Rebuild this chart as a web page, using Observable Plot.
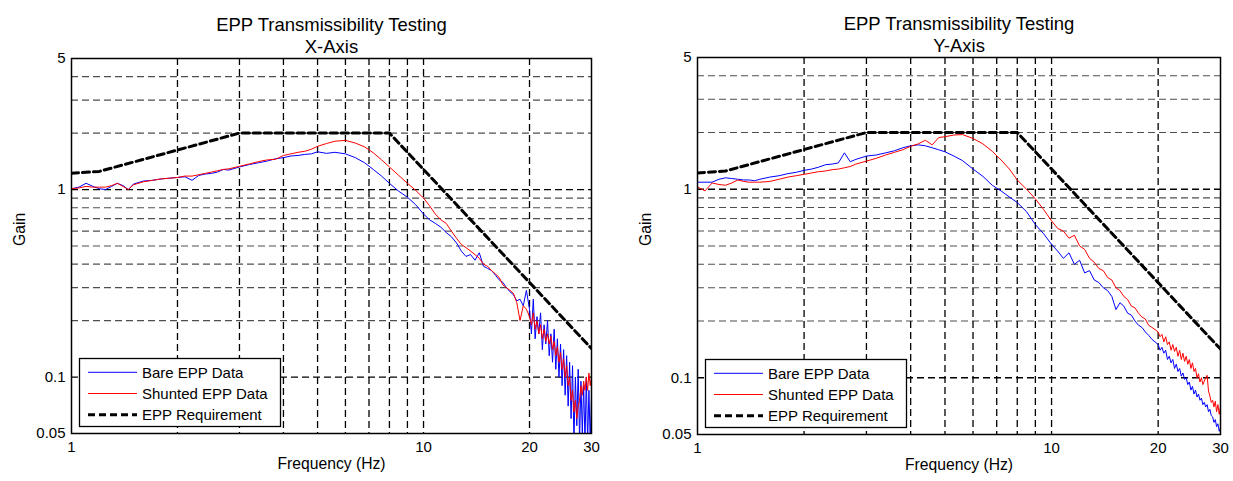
<!DOCTYPE html>
<html><head><meta charset="utf-8">
<script src="https://cdn.jsdelivr.net/npm/d3@7"></script>
<script src="https://cdn.jsdelivr.net/npm/@observablehq/plot@0.6"></script>
<style>
body{margin:0;background:#fff;}
#wrap{display:flex;width:1233px;height:481px;overflow:hidden;}
</style></head><body><div id="wrap"></div>
<script>
// ---- data ----
const chartTitle = "EPP Transmissibility Testing";
const panelNames = ["X-Axis", "Y-Axis"];
const seriesLabels = ["Bare EPP Data", "Shunted EPP Data", "EPP Requirement"];
const xLabel = "Frequency (Hz)";
const yLabel = "Gain";

const freq = [1,1.05,1.1,1.15,1.2,1.25,1.3,1.35,1.4,1.45,1.5,1.6,1.7,1.8,1.9,2,2.1,2.2,2.3,2.4,2.5,2.6,2.7,2.8,3,3.2,3.4,3.6,3.8,4,4.2,4.4,4.6,4.8,5,5.3,5.6,6,6.4,6.8,7.2,7.6,8,8.5,9,9.5,
  10,10.4,10.8,11.2,11.6,12,12.4,12.8,13.2,13.6,14,14.4,14.8,15.2,15.6,16,16.4,16.8,17.2,17.6,18,18.4,18.8,19.2,19.6,
  20,20.25,20.5,20.75,21,21.25,21.5,21.75,22,22.25,22.5,22.75,23,23.25,23.5,23.75,24,24.25,24.5,24.75,25,25.25,25.5,25.75,26,26.25,26.5,26.75,27,27.25,27.5,27.75,28,28.25,28.5,28.75,29,29.25,29.5,29.75,30];

// X-Axis panel
const xBare = [1.01,1.03,1.08,1.04,1.01,1.00,1.04,1.08,1.05,1.00,1.07,1.11,1.12,1.14,1.15,1.16,1.17,1.12,1.19,1.21,1.22,1.24,1.28,1.27,1.32,1.36,1.39,1.42,1.46,1.48,1.51,1.52,1.54,1.55,1.59,1.56,1.58,1.55,1.48,1.39,1.28,1.18,1.08,0.98,0.91,0.83,
  0.74,0.69,0.66,0.63,0.59,0.56,0.52,0.47,0.44,0.45,0.42,0.46,0.39,0.38,0.37,0.35,0.33,0.32,0.30,0.285,0.275,0.255,0.26,0.24,0.29,
  0.23,0.17,0.26,0.16,0.21,0.17,0.22,0.14,0.19,0.15,0.20,0.13,0.17,0.12,0.18,0.11,0.16,0.10,0.15,0.09,0.14,0.08,0.13,0.07,0.12,0.06,0.115,0.045,0.10,0.055,0.11,0.045,0.095,0.05,0.09,0.045,0.10,0.045,0.085,0.045,0.08];
const xShunted = [1.01,1.02,1.04,1.03,1.03,1.03,1.05,1.08,1.04,1.00,1.06,1.10,1.12,1.14,1.15,1.16,1.18,1.18,1.20,1.22,1.24,1.26,1.28,1.29,1.33,1.37,1.41,1.44,1.45,1.52,1.55,1.58,1.60,1.64,1.70,1.76,1.81,1.83,1.77,1.69,1.57,1.44,1.32,1.19,1.08,0.99,
  0.90,0.82,0.74,0.69,0.66,0.60,0.55,0.51,0.49,0.47,0.45,0.43,0.40,0.39,0.37,0.355,0.34,0.31,0.30,0.29,0.28,0.25,0.20,0.24,0.23,
  0.21,0.19,0.22,0.18,0.20,0.17,0.19,0.16,0.18,0.155,0.17,0.15,0.165,0.14,0.155,0.13,0.145,0.12,0.135,0.11,0.125,0.10,0.115,0.09,0.10,0.075,0.085,0.065,0.075,0.06,0.07,0.075,0.09,0.08,0.095,0.085,0.10,0.085,0.105,0.09,0.10];

// Y-Axis panel
const yBare = [1.09,1.09,1.09,1.13,1.15,1.14,1.13,1.12,1.12,1.11,1.13,1.16,1.18,1.21,1.23,1.26,1.28,1.31,1.35,1.36,1.38,1.56,1.40,1.44,1.50,1.52,1.56,1.60,1.66,1.70,1.72,1.70,1.66,1.62,1.58,1.50,1.42,1.28,1.17,1.05,0.98,0.91,0.85,0.76,0.65,0.58,
  0.51,0.47,0.43,0.46,0.40,0.42,0.36,0.37,0.33,0.32,0.30,0.29,0.27,0.23,0.25,0.24,0.22,0.215,0.20,0.19,0.185,0.175,0.168,0.16,0.155,
  0.150,0.14,0.145,0.135,0.14,0.125,0.13,0.12,0.125,0.112,0.118,0.108,0.112,0.102,0.106,0.098,0.1,0.092,0.095,0.086,0.09,0.082,0.086,0.079,0.082,0.076,0.078,0.072,0.074,0.07,0.072,0.066,0.068,0.063,0.062,0.058,0.06,0.055,0.057,0.052,0.054];
const yShunted = [1.03,0.98,1.08,1.06,1.05,1.08,1.12,1.10,1.09,1.09,1.09,1.10,1.13,1.16,1.18,1.20,1.22,1.24,1.25,1.27,1.28,1.30,1.32,1.36,1.41,1.46,1.52,1.57,1.62,1.69,1.74,1.82,1.72,1.88,1.90,1.94,1.95,1.86,1.74,1.59,1.43,1.28,1.12,1.00,0.89,0.78,
  0.68,0.62,0.60,0.55,0.57,0.50,0.48,0.43,0.41,0.38,0.37,0.34,0.33,0.30,0.29,0.27,0.26,0.24,0.235,0.22,0.21,0.205,0.19,0.185,0.18,
  0.175,0.165,0.17,0.155,0.165,0.15,0.155,0.14,0.15,0.138,0.145,0.13,0.14,0.125,0.135,0.122,0.13,0.118,0.125,0.112,0.12,0.108,0.112,0.1,0.105,0.095,0.1,0.092,0.096,0.1,0.103,0.085,0.08,0.074,0.076,0.07,0.075,0.066,0.072,0.064,0.07];

// requirement envelope
const reqFreq = [1, 1.2, 3, 8, 30];
const reqGain = [1.22, 1.25, 2, 2, 0.142];

// axes / grid
const xTicks = [1, 10, 20, 30];
const yTicks = [0.05, 0.1, 1, 5];
const xGrid = [2, 3, 4, 5, 6, 7, 8, 9, 10, 20];
const yGridMinor = [0.2, 0.3, 0.4, 0.5, 0.6, 0.7, 0.8, 0.9, 2, 3, 4];
const yGridMajor = [0.1, 1];

// ---- drawing ----
const FONT = "'Liberation Sans', Arial, Helvetica, sans-serif";
const colors = ["#0000ff", "#ff0000", "#000000"];

function legendMark(index, scales, values, dims) {
  const x0 = dims.marginLeft + 8;
  const yb = dims.height - dims.marginBottom - 7;
  const w = 201, h = 68, top = yb - h;
  const g = d3.create("svg:g");
  g.append("rect").attr("x", x0 + 0.5).attr("y", top + 0.5).attr("width", w).attr("height", h)
    .attr("fill", "white").attr("stroke", "black").attr("stroke-width", 1.3);
  seriesLabels.forEach((lab, i) => {
    const y = top + 14.3 + i * 21.2;
    g.append("line").attr("x1", x0 + 9).attr("x2", x0 + 58).attr("y1", y).attr("y2", y)
      .attr("stroke", colors[i]).attr("stroke-width", i === 2 ? 3 : 1)
      .attr("stroke-dasharray", i === 2 ? "7,4" : null);
    g.append("text").attr("x", x0 + 63).attr("y", y).attr("dy", "0.35em")
      .attr("text-anchor", "start")
      .attr("font-size", 15).attr("fill", "black").text(lab);
  });
  return g.node();
}

function panel(name, bare, shunted, m) {
  const bareData = freq.map((f, i) => ({f, g: bare[i]}));
  const shuntData = freq.map((f, i) => ({f, g: shunted[i]}));
  const reqData = reqFreq.map((f, i) => ({f, g: reqGain[i]}));
  return Plot.plot({
    width: m.width, height: 481,
    marginLeft: m.left, marginRight: m.right, marginTop: m.top, marginBottom: m.bottom,
    style: {fontFamily: FONT, fontSize: "15px", color: "black", background: "white", overflow: "visible"},
    x: {type: "log", domain: [1, 30], ticks: xTicks, tickFormat: d => String(d), tickSize: 0, tickPadding: 8, label: null},
    y: {type: "log", domain: [0.05, 5], ticks: yTicks, tickFormat: d => String(d), tickSize: 0, tickPadding: 6, label: null},
    marks: [
      Plot.ruleY(yGridMinor, {stroke: "#222", strokeOpacity: 0.8, strokeWidth: 1.1, strokeDasharray: "7,4"}),
      Plot.ruleY(yGridMajor, {stroke: "#000", strokeWidth: 1.3, strokeDasharray: "7,4"}),
      Plot.ruleX(xGrid, {stroke: "#000", strokeWidth: 1.3, strokeDasharray: "7,4"}),
      Plot.line(bareData, {x: "f", y: "g", stroke: colors[0], strokeWidth: 1, clip: true}),
      Plot.line(shuntData, {x: "f", y: "g", stroke: colors[1], strokeWidth: 1, clip: true}),
      Plot.line(reqData, {x: "f", y: "g", stroke: colors[2], strokeWidth: 3, strokeDasharray: "7,4", clip: true}),
      Plot.frame({stroke: "#000", strokeWidth: 1.5}),
      legendMark,
      Plot.text([chartTitle], {frameAnchor: "top", dy: -41, fontSize: 18.5}),
      Plot.text([name], {frameAnchor: "top", dy: -19, fontSize: 18.5}),
      Plot.text([xLabel], {frameAnchor: "bottom", dy: 35, fontSize: 15.7}),
      Plot.text([yLabel], {frameAnchor: "left", dx: -52, rotate: -90, fontSize: 15.7})
    ]
  });
}

const wrap = document.getElementById("wrap");
wrap.append(panel(panelNames[0], xBare, xShunted, {width: 616, left: 71, right: 25, top: 58, bottom: 48}));
wrap.append(panel(panelNames[1], yBare, yShunted, {width: 617, left: 81, right: 13, top: 57, bottom: 47}));
</script></body></html>
